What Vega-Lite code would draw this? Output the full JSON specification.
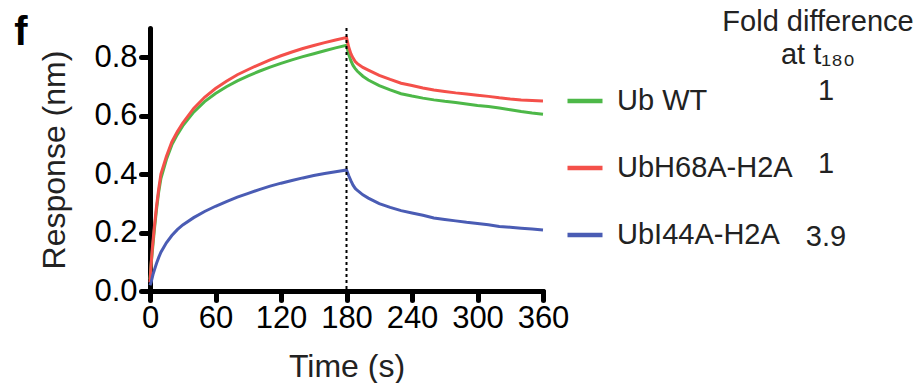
{
  "$schema": "https://vega.github.io/schema/vega-lite/v6.json",
  "width": 393,
  "height": 263,
  "autosize": {"type": "none"},
  "padding": {"left": 150, "top": 28, "right": 373, "bottom": 92},
  "background": "white",
  "title": {"text": "f", "orient": "left", "anchor": "end", "frame": "group", "angle": 0, "align": "right", "baseline": "alphabetic", "offset": -2, "dy": 17, "fontSize": 40, "fontWeight": "bold", "font": "Liberation Sans", "color": "black"},
  "config": {
    "view": {"stroke": null},
    "font": "Liberation Sans",
    "axis": {
      "grid": false,
      "domainColor": "black", "domainWidth": 5, "domainCap": "round",
      "tickColor": "black", "tickWidth": 5, "tickSize": 9, "tickCap": "round",
      "labelFont": "Liberation Sans", "labelFontSize": 31, "labelColor": "black",
      "titleFont": "Liberation Sans", "titleFontSize": 32, "titleFontWeight": "normal", "titleColor": "#222",
      "labelFlush": false, "labelOverlap": false
    },
    "legend": {"padding": 0, "labelLimit": 0, "titleLimit": 0}
  },
  "datasets": {
    "curves": [
      {"series": "Ub WT", "time": 0, "response": 0.04},
      {"series": "Ub WT", "time": 1, "response": 0.09},
      {"series": "Ub WT", "time": 2, "response": 0.13},
      {"series": "Ub WT", "time": 3, "response": 0.17},
      {"series": "Ub WT", "time": 4, "response": 0.21},
      {"series": "Ub WT", "time": 6, "response": 0.28},
      {"series": "Ub WT", "time": 8, "response": 0.34},
      {"series": "Ub WT", "time": 10, "response": 0.385},
      {"series": "Ub WT", "time": 15, "response": 0.45},
      {"series": "Ub WT", "time": 20, "response": 0.50},
      {"series": "Ub WT", "time": 25, "response": 0.535},
      {"series": "Ub WT", "time": 30, "response": 0.565},
      {"series": "Ub WT", "time": 40, "response": 0.612},
      {"series": "Ub WT", "time": 50, "response": 0.648},
      {"series": "Ub WT", "time": 60, "response": 0.676},
      {"series": "Ub WT", "time": 70, "response": 0.699},
      {"series": "Ub WT", "time": 80, "response": 0.719},
      {"series": "Ub WT", "time": 90, "response": 0.736},
      {"series": "Ub WT", "time": 100, "response": 0.752},
      {"series": "Ub WT", "time": 110, "response": 0.766},
      {"series": "Ub WT", "time": 120, "response": 0.779},
      {"series": "Ub WT", "time": 130, "response": 0.791},
      {"series": "Ub WT", "time": 140, "response": 0.802},
      {"series": "Ub WT", "time": 150, "response": 0.812},
      {"series": "Ub WT", "time": 160, "response": 0.822},
      {"series": "Ub WT", "time": 170, "response": 0.832},
      {"series": "Ub WT", "time": 180, "response": 0.841},
      {"series": "Ub WT", "time": 182, "response": 0.810},
      {"series": "Ub WT", "time": 184, "response": 0.788},
      {"series": "Ub WT", "time": 186, "response": 0.772},
      {"series": "Ub WT", "time": 188, "response": 0.761},
      {"series": "Ub WT", "time": 190, "response": 0.752},
      {"series": "Ub WT", "time": 195, "response": 0.735},
      {"series": "Ub WT", "time": 200, "response": 0.722},
      {"series": "Ub WT", "time": 210, "response": 0.703},
      {"series": "Ub WT", "time": 220, "response": 0.688},
      {"series": "Ub WT", "time": 230, "response": 0.675},
      {"series": "Ub WT", "time": 240, "response": 0.667},
      {"series": "Ub WT", "time": 250, "response": 0.660},
      {"series": "Ub WT", "time": 260, "response": 0.654},
      {"series": "Ub WT", "time": 270, "response": 0.649},
      {"series": "Ub WT", "time": 280, "response": 0.645},
      {"series": "Ub WT", "time": 290, "response": 0.640},
      {"series": "Ub WT", "time": 300, "response": 0.635},
      {"series": "Ub WT", "time": 310, "response": 0.631},
      {"series": "Ub WT", "time": 320, "response": 0.626},
      {"series": "Ub WT", "time": 330, "response": 0.620},
      {"series": "Ub WT", "time": 340, "response": 0.614},
      {"series": "Ub WT", "time": 350, "response": 0.609},
      {"series": "Ub WT", "time": 360, "response": 0.605},
      {"series": "UbH68A-H2A", "time": 0, "response": 0.03},
      {"series": "UbH68A-H2A", "time": 1, "response": 0.09},
      {"series": "UbH68A-H2A", "time": 2, "response": 0.14},
      {"series": "UbH68A-H2A", "time": 3, "response": 0.18},
      {"series": "UbH68A-H2A", "time": 4, "response": 0.22},
      {"series": "UbH68A-H2A", "time": 6, "response": 0.29},
      {"series": "UbH68A-H2A", "time": 8, "response": 0.35},
      {"series": "UbH68A-H2A", "time": 10, "response": 0.40},
      {"series": "UbH68A-H2A", "time": 15, "response": 0.46},
      {"series": "UbH68A-H2A", "time": 20, "response": 0.51},
      {"series": "UbH68A-H2A", "time": 25, "response": 0.545},
      {"series": "UbH68A-H2A", "time": 30, "response": 0.575},
      {"series": "UbH68A-H2A", "time": 40, "response": 0.625},
      {"series": "UbH68A-H2A", "time": 50, "response": 0.663},
      {"series": "UbH68A-H2A", "time": 60, "response": 0.693},
      {"series": "UbH68A-H2A", "time": 70, "response": 0.718},
      {"series": "UbH68A-H2A", "time": 80, "response": 0.740},
      {"series": "UbH68A-H2A", "time": 90, "response": 0.758},
      {"series": "UbH68A-H2A", "time": 100, "response": 0.775},
      {"series": "UbH68A-H2A", "time": 110, "response": 0.791},
      {"series": "UbH68A-H2A", "time": 120, "response": 0.805},
      {"series": "UbH68A-H2A", "time": 130, "response": 0.818},
      {"series": "UbH68A-H2A", "time": 140, "response": 0.830},
      {"series": "UbH68A-H2A", "time": 150, "response": 0.840},
      {"series": "UbH68A-H2A", "time": 160, "response": 0.850},
      {"series": "UbH68A-H2A", "time": 170, "response": 0.859},
      {"series": "UbH68A-H2A", "time": 180, "response": 0.867},
      {"series": "UbH68A-H2A", "time": 182, "response": 0.835},
      {"series": "UbH68A-H2A", "time": 184, "response": 0.812},
      {"series": "UbH68A-H2A", "time": 186, "response": 0.797},
      {"series": "UbH68A-H2A", "time": 188, "response": 0.785},
      {"series": "UbH68A-H2A", "time": 190, "response": 0.778},
      {"series": "UbH68A-H2A", "time": 195, "response": 0.765},
      {"series": "UbH68A-H2A", "time": 200, "response": 0.756},
      {"series": "UbH68A-H2A", "time": 210, "response": 0.738},
      {"series": "UbH68A-H2A", "time": 220, "response": 0.724},
      {"series": "UbH68A-H2A", "time": 230, "response": 0.711},
      {"series": "UbH68A-H2A", "time": 240, "response": 0.703},
      {"series": "UbH68A-H2A", "time": 250, "response": 0.695},
      {"series": "UbH68A-H2A", "time": 260, "response": 0.688},
      {"series": "UbH68A-H2A", "time": 270, "response": 0.683},
      {"series": "UbH68A-H2A", "time": 280, "response": 0.678},
      {"series": "UbH68A-H2A", "time": 290, "response": 0.674},
      {"series": "UbH68A-H2A", "time": 300, "response": 0.670},
      {"series": "UbH68A-H2A", "time": 310, "response": 0.666},
      {"series": "UbH68A-H2A", "time": 320, "response": 0.661},
      {"series": "UbH68A-H2A", "time": 330, "response": 0.657},
      {"series": "UbH68A-H2A", "time": 340, "response": 0.654},
      {"series": "UbH68A-H2A", "time": 350, "response": 0.652},
      {"series": "UbH68A-H2A", "time": 360, "response": 0.650},
      {"series": "UbI44A-H2A", "time": 0, "response": 0.02},
      {"series": "UbI44A-H2A", "time": 1, "response": 0.03},
      {"series": "UbI44A-H2A", "time": 2, "response": 0.045},
      {"series": "UbI44A-H2A", "time": 3, "response": 0.06},
      {"series": "UbI44A-H2A", "time": 4, "response": 0.072},
      {"series": "UbI44A-H2A", "time": 6, "response": 0.095},
      {"series": "UbI44A-H2A", "time": 8, "response": 0.115},
      {"series": "UbI44A-H2A", "time": 10, "response": 0.133},
      {"series": "UbI44A-H2A", "time": 15, "response": 0.165},
      {"series": "UbI44A-H2A", "time": 20, "response": 0.19},
      {"series": "UbI44A-H2A", "time": 25, "response": 0.21},
      {"series": "UbI44A-H2A", "time": 30, "response": 0.226},
      {"series": "UbI44A-H2A", "time": 40, "response": 0.251},
      {"series": "UbI44A-H2A", "time": 50, "response": 0.272},
      {"series": "UbI44A-H2A", "time": 60, "response": 0.290},
      {"series": "UbI44A-H2A", "time": 70, "response": 0.306},
      {"series": "UbI44A-H2A", "time": 80, "response": 0.321},
      {"series": "UbI44A-H2A", "time": 90, "response": 0.334},
      {"series": "UbI44A-H2A", "time": 100, "response": 0.347},
      {"series": "UbI44A-H2A", "time": 110, "response": 0.359},
      {"series": "UbI44A-H2A", "time": 120, "response": 0.369},
      {"series": "UbI44A-H2A", "time": 130, "response": 0.378},
      {"series": "UbI44A-H2A", "time": 140, "response": 0.387},
      {"series": "UbI44A-H2A", "time": 150, "response": 0.395},
      {"series": "UbI44A-H2A", "time": 160, "response": 0.402},
      {"series": "UbI44A-H2A", "time": 170, "response": 0.408},
      {"series": "UbI44A-H2A", "time": 180, "response": 0.414},
      {"series": "UbI44A-H2A", "time": 182, "response": 0.395},
      {"series": "UbI44A-H2A", "time": 184, "response": 0.378},
      {"series": "UbI44A-H2A", "time": 186, "response": 0.362},
      {"series": "UbI44A-H2A", "time": 188, "response": 0.351},
      {"series": "UbI44A-H2A", "time": 190, "response": 0.344},
      {"series": "UbI44A-H2A", "time": 195, "response": 0.329},
      {"series": "UbI44A-H2A", "time": 200, "response": 0.318},
      {"series": "UbI44A-H2A", "time": 210, "response": 0.299},
      {"series": "UbI44A-H2A", "time": 220, "response": 0.286},
      {"series": "UbI44A-H2A", "time": 230, "response": 0.275},
      {"series": "UbI44A-H2A", "time": 240, "response": 0.267},
      {"series": "UbI44A-H2A", "time": 250, "response": 0.259},
      {"series": "UbI44A-H2A", "time": 260, "response": 0.250},
      {"series": "UbI44A-H2A", "time": 270, "response": 0.245},
      {"series": "UbI44A-H2A", "time": 280, "response": 0.240},
      {"series": "UbI44A-H2A", "time": 290, "response": 0.235},
      {"series": "UbI44A-H2A", "time": 300, "response": 0.231},
      {"series": "UbI44A-H2A", "time": 310, "response": 0.227},
      {"series": "UbI44A-H2A", "time": 320, "response": 0.221},
      {"series": "UbI44A-H2A", "time": 330, "response": 0.218},
      {"series": "UbI44A-H2A", "time": 340, "response": 0.215},
      {"series": "UbI44A-H2A", "time": 350, "response": 0.212},
      {"series": "UbI44A-H2A", "time": 360, "response": 0.209}
    ],
    "fold": [
      {"sample": "Ub WT", "fold": "1"},
      {"sample": "UbH68A-H2A", "fold": "1"},
      {"sample": "UbI44A-H2A", "fold": "3.9"}
    ]
  },
  "layer": [
    {
      "data": {"name": "curves"},
      "mark": {"type": "line", "strokeWidth": 3, "interpolate": "linear"},
      "encoding": {
        "x": {"field": "time", "type": "quantitative", "scale": {"domain": [0, 360], "nice": false},
              "axis": {"values": [0, 60, 120, 180, 240, 300, 360], "title": "Time (s)", "labelPadding": 3, "titlePadding": 18}},
        "y": {"field": "response", "type": "quantitative", "scale": {"domain": [0, 0.9], "nice": false},
              "axis": {"values": [0, 0.2, 0.4, 0.6, 0.8], "format": ".1f", "title": "Response (nm)", "labelPadding": 4, "titlePadding": 22}},
        "color": {"field": "series", "type": "nominal",
                  "scale": {"domain": ["Ub WT", "UbH68A-H2A", "UbI44A-H2A"], "range": ["#4db848", "#f4504a", "#4a5cb4"]},
                  "legend": {"orient": "none", "legendX": 415, "legendY": 53, "title": null,
                             "symbolType": "stroke", "symbolSize": 1225, "symbolStrokeWidth": 4.5,
                             "labelFontSize": 29, "labelFont": "Liberation Sans", "labelColor": "#222", "labelOffset": 12, "rowPadding": 32}}
      }
    },
    {
      "data": {"values": [{}]},
      "mark": {"type": "rule", "strokeDash": [3, 3], "strokeWidth": 2, "color": "black"},
      "encoding": {"x": {"datum": 180}}
    },
    {
      "data": {"name": "fold"},
      "mark": {"type": "point", "opacity": 0},
      "encoding": {
        "shape": {"field": "sample", "type": "nominal",
                  "legend": {"orient": "none", "legendX": 572, "legendY": -20,
                             "title": ["Fold difference", "at t₁₈₀"], "titleFontSize": 29, "titleFontWeight": "normal", "titleColor": "#222",
                             "titleFont": "Liberation Sans", "titleAlign": "center", "titleAnchor": "middle", "titleLineHeight": 33, "titlePadding": 6,
                             "symbolSize": 0, "symbolOpacity": 0,
                             "labelExpr": "datum.label == 'UbI44A-H2A' ? '3.9' : '1'",
                             "labelFontSize": 29, "labelFont": "Liberation Sans", "labelColor": "#222", "labelAlign": "center", "labelOffset": 7, "rowPadding": 43}}
      }
    }
  ]
}
